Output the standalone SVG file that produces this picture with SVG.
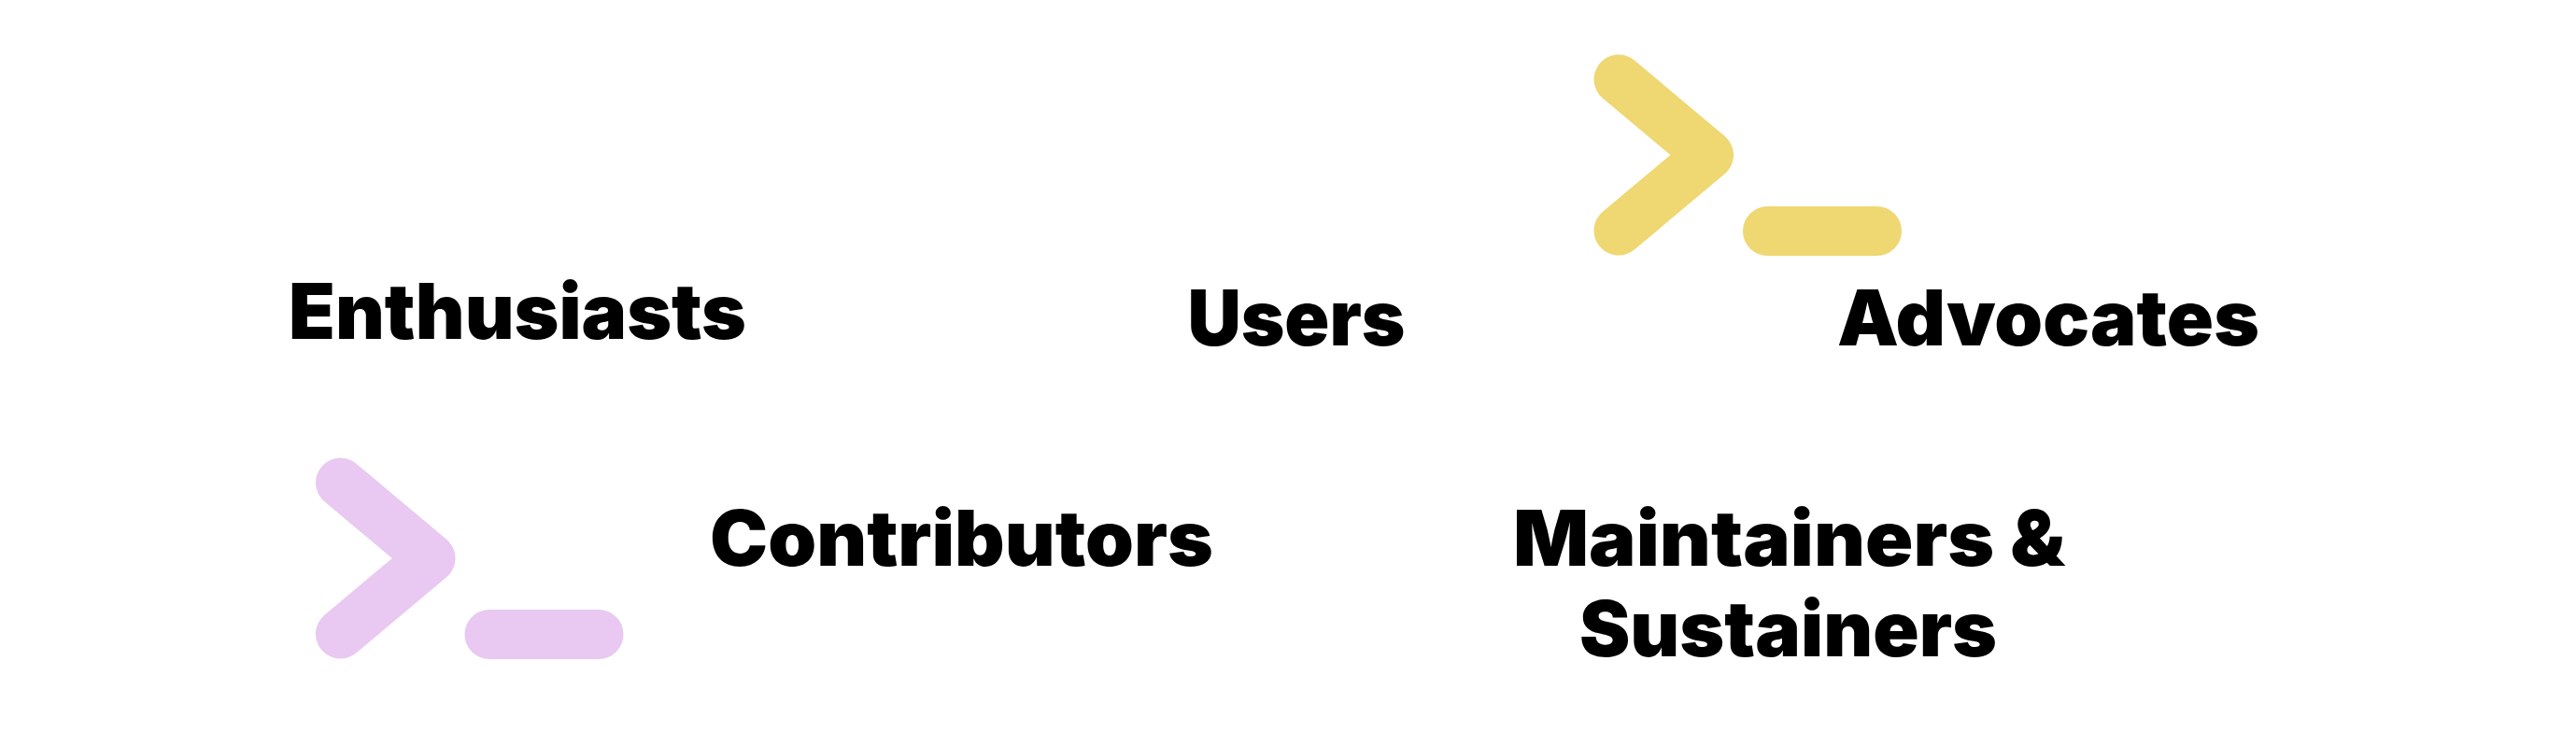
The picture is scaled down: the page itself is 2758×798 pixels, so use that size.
<svg xmlns="http://www.w3.org/2000/svg" width="2758" height="798" viewBox="0 0 2758 798">
<style>
.label{font-family:"Inter","Liberation Sans",sans-serif;font-weight:900;font-size:82px;fill:#000}
.chev{fill:none;stroke-width:53;stroke-linecap:round;stroke-linejoin:round}
.yellow{stroke:#EFD772}
.purple{stroke:#E9C8F2}
</style>
<defs>
<g id="prompt">
<path class="chev" d="M1733 85L1829.500 166L1733 247"/>
<path class="chev" d="M1892.500 247.500H2009.500"/>
</g>
</defs>
<rect width="2758" height="798" fill="#fff"/>
<g id="enthusiasts"><text class="label" x="309" y="362.500" textLength="490" lengthAdjust="spacingAndGlyphs">Enthusiasts</text></g>
<g id="users"><text class="label" x="1271.500" y="369.500" textLength="233" lengthAdjust="spacingAndGlyphs">Users</text></g>
<g id="advocates">
<use href="#prompt" class="yellow"/>
<text class="label" x="1967" y="370" textLength="452" lengthAdjust="spacingAndGlyphs">Advocates</text>
</g>
<g id="contributors">
<use href="#prompt" class="purple" transform="translate(-1368.500 432)"/>
<text class="label" x="760" y="606" textLength="539" lengthAdjust="spacingAndGlyphs">Contributors</text>
</g>
<g id="maintainers">
<text class="label" x="1620" y="606" textLength="591" lengthAdjust="spacingAndGlyphs">Maintainers &amp;</text>
<text class="label" x="1691" y="703" textLength="447" lengthAdjust="spacingAndGlyphs">Sustainers</text>
</g>
</svg>
